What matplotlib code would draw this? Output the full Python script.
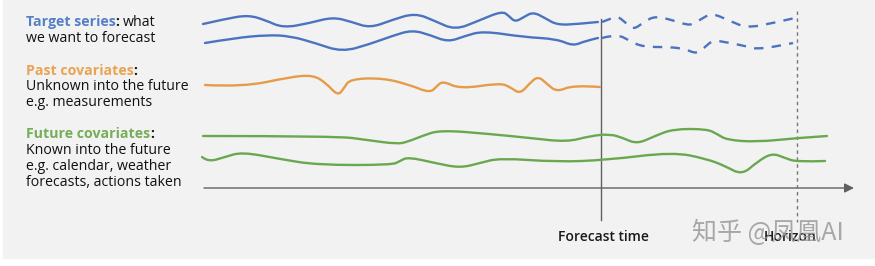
import matplotlib
matplotlib.use("Agg")
import matplotlib.pyplot as plt
import matplotlib.patches as mpatches
from matplotlib.path import Path

# ---- data (time on x, value on y) ----
target1_past_t = [203, 225, 248, 265, 283, 310, 333, 352, 370, 392, 415, 435, 455, 478, 502, 509, 515, 524, 533, 545, 557, 578, 598]
target1_past_v = [24, 19, 15, 20, 28, 23, 17, 22, 28, 20, 13, 21, 30, 21, 11, 16, 22, 17, 12, 18, 25, 24, 22]
target1_fut_t = [602, 610, 617, 625, 633, 644, 655, 672, 687, 693, 703, 712, 730, 747, 773, 795]
target1_fut_v = [22, 19, 16, 22, 30, 22, 16, 20, 25, 24, 18, 13, 21, 28, 23, 18]

target2_past_t = [205, 235, 267, 290, 315, 342, 370, 392, 412, 430, 448, 465, 483, 523, 557, 573, 585, 598]
target2_past_v = [43, 38, 35, 36, 43, 52, 44, 36, 30, 35, 42, 36, 31, 37, 39, 46, 41, 38]
target2_fut_t = [602, 617, 630, 643, 670, 685, 697, 705, 713, 730, 745, 760, 793]
target2_fut_v = [38, 34, 41, 47, 47, 49, 54, 47, 40, 43, 46, 50, 43]

past_cov_t = [205, 243, 290, 313, 326, 338, 344, 350, 383, 410, 430, 437, 443, 460, 500, 510, 520, 529, 538, 547, 557, 573, 600]
past_cov_v = [85, 87, 77, 75, 83, 96, 88, 79, 78, 85, 93, 86, 81, 89, 83, 87, 94, 84, 76, 84, 92, 85, 87]

future1_t = [203, 337, 367, 397, 407, 422, 440, 490, 530, 567, 590, 610, 623, 637, 655, 673, 707, 717, 727, 757, 797, 827]
future1_v = [136, 136, 140, 144, 142, 136, 130, 134, 138, 142, 136, 134, 138, 144, 136, 129, 129, 134, 140, 142, 138, 136]

future2_t = [202, 208, 225, 242, 280, 317, 392, 400, 408, 435, 460, 480, 500, 557, 607, 673, 707, 725, 742, 757, 772, 785, 797, 825]
future2_v = [157, 162, 157, 152, 159, 165, 165, 161, 157, 163, 168, 163, 158, 162, 160, 152, 159, 166, 175, 162, 153, 158, 162, 161]

forecast_t = 601
horizon_t = 797

BLUE = "#4a74c0"
ORANGE = "#e59c48"
GREEN = "#6aa84f"
GRAY = "#606060"

FONT = "Open Sans"
FS = 10.2

fig = plt.figure(figsize=(8.75, 2.66), dpi=100, facecolor="white")
ax = fig.add_axes([0, 0, 1, 1])
ax.set_xlim(0, 875)
ax.set_ylim(266, 0)
ax.axis("off")
ax.add_patch(mpatches.Rectangle((3, 0), 872, 258, color="#f2f2f2", zorder=0))


def smooth(t, v, color, dashes=None):
    # quadratic bezier path using the read points as control points
    pts = list(zip(t, v))
    verts = [pts[0]]
    codes = [Path.MOVETO]
    for i in range(1, len(pts) - 1):
        mid = ((pts[i][0] + pts[i + 1][0]) / 2, (pts[i][1] + pts[i + 1][1]) / 2)
        if i == len(pts) - 2:
            mid = pts[-1]
        verts += [pts[i], mid]
        codes += [Path.CURVE3, Path.CURVE3]
    patch = mpatches.PathPatch(Path(verts, codes), fill=False, edgecolor=color,
                               lw=1.7, capstyle="round", joinstyle="round", zorder=3)
    if dashes:
        patch.set_linestyle((0, dashes))
        patch.set_capstyle("butt")
    ax.add_patch(patch)


smooth(target1_past_t, target1_past_v, BLUE)
smooth(target2_past_t, target2_past_v, BLUE)
smooth(target1_fut_t, target1_fut_v, BLUE, dashes=(4, 3.5))
smooth(target2_fut_t, target2_fut_v, BLUE, dashes=(4, 3.5))
smooth(past_cov_t, past_cov_v, ORANGE)
smooth(future1_t, future1_v, GREEN)
smooth(future2_t, future2_v, GREEN)

# time axis with arrow
ax.annotate("", xy=(854, 188), xytext=(204, 188),
            arrowprops=dict(arrowstyle="-|>", color=GRAY, lw=1.0, mutation_scale=14,
                            shrinkA=0, shrinkB=0), zorder=2)
# forecast time / horizon markers
ax.plot([forecast_t, forecast_t], [19, 220], color=GRAY, lw=1.0, zorder=2)
ax.plot([horizon_t, horizon_t], [11, 222], color="#777777", lw=1.0, dashes=(2.5, 2.5), zorder=2)

ax.text(603, 237, "Forecast time", ha="center", va="center", fontsize=10,
        fontweight="semibold", family=FONT, color="#1a1a1a")
ax.text(790, 237, "Horizon", ha="center", va="center", fontsize=10,
        fontweight="semibold", family=FONT, color="#1a1a1a")

# left labels: coloured bold name + black remainder
fig.canvas.draw()
renderer = fig.canvas.get_renderer()


def label(x, y, head, color, tail):
    t = ax.text(x, y, head, color=color, fontsize=FS, fontweight="bold",
                family=FONT, va="center", ha="left")
    bb = t.get_window_extent(renderer)
    x2 = ax.transData.inverted().transform((bb.x1, bb.y0))[0]
    c = ax.text(x2, y, ":", color="#111111", fontsize=FS, fontweight="bold",
                family=FONT, va="center", ha="left")
    if tail:
        bb2 = c.get_window_extent(renderer)
        x3 = ax.transData.inverted().transform((bb2.x1, bb2.y0))[0]
        ax.text(x3 + 3, y, tail, color="#111111", fontsize=FS, family=FONT,
                va="center", ha="left")


def plain(x, y, s):
    ax.text(x, y, s, color="#111111", fontsize=FS, family=FONT, va="center", ha="left")


label(26, 22, "Target series", "#5580c8", "what")
plain(26, 38, "we want to forecast")
label(26, 71, "Past covariates", "#eaa352", "")
plain(26, 87, "Unknown into the future")
plain(26, 102, "e.g. measurements")
label(26, 134, "Future covariates", "#76ad5a", "")
plain(26, 151, "Known into the future")
plain(26, 167, "e.g. calendar, weather")
plain(26, 183, "forecasts, actions taken")

# watermark
ax.text(692, 233, "知乎 @凤凰AI", ha="left", va="center", fontsize=18,
        family=["Noto Sans CJK SC", "DejaVu Sans"], color="#9a9a9a", alpha=0.85, zorder=5)

fig.savefig("out.png", dpi=100, facecolor="white")
